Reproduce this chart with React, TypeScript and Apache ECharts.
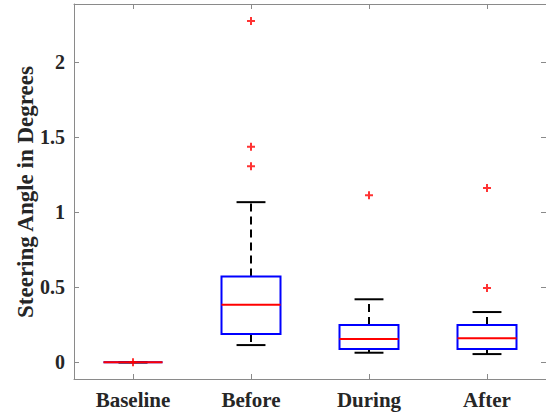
import React, { useEffect, useRef } from "react";
import * as echarts from "echarts";

const categories = ["Baseline", "Before", "During", "After"];
const whiskerLow = [0, 0.115, 0.064, 0.055];
const q1 = [0, 0.189, 0.089, 0.089];
const medians = [0, 0.384, 0.155, 0.16];
const q3 = [0, 0.571, 0.249, 0.249];
const whiskerHigh = [0, 1.067, 0.42, 0.335];
const outliers: [number, number][] = [
  [0, 0],
  [1, 2.273],
  [1, 1.436],
  [1, 1.307],
  [2, 1.113],
  [3, 1.162],
  [3, 0.495],
];
const yTicks = [0, 0.5, 1, 1.5, 2];
const yTitle = "Steering Angle in Degrees";

const FONT = "'Liberation Serif', 'Times New Roman', serif";
const AXIS_GRAY = "#8a8a8a";
const TEXT = "#262626";

export default function App() {
  const ref = useRef<HTMLDivElement>(null);
  useEffect(() => {
    if (!ref.current) return;
    const chart = echarts.init(ref.current, undefined, { renderer: "svg" });
    const boxData = categories.map((_, i) => [
      i,
      whiskerLow[i],
      q1[i],
      medians[i],
      q3[i],
      whiskerHigh[i],
    ]);
    const yCommon = {
      type: "value" as const,
      min: -0.111,
      max: 2.387,
      splitLine: { show: false },
      axisLine: { show: true, onZero: false, lineStyle: { color: AXIS_GRAY, width: 1 } },
      axisTick: {
        show: true,
        inside: true,
        length: 5,
        customValues: yTicks,
        lineStyle: { color: AXIS_GRAY },
      },
    };
    const xCommon = {
      type: "category" as const,
      data: categories,
      boundaryGap: true,
      splitLine: { show: false },
      axisLine: { show: true, onZero: false, lineStyle: { color: AXIS_GRAY, width: 1 } },
      axisTick: {
        show: true,
        inside: true,
        length: 5,
        alignWithLabel: true,
        lineStyle: { color: AXIS_GRAY },
      },
    };
    chart.setOption({
      animation: false,
      grid: { left: 74, right: -3, top: 4, bottom: 33, containLabel: false },
      xAxis: [
        {
          ...xCommon,
          position: "bottom",
          axisLabel: {
            show: true,
            fontFamily: FONT,
            fontWeight: "bold",
            fontSize: 21,
            color: TEXT,
            margin: 10,
          },
        },
        { ...xCommon, position: "top", axisLabel: { show: false } },
      ],
      yAxis: [
        {
          ...yCommon,
          position: "left",
          axisLabel: {
            show: true,
            fontFamily: FONT,
            fontWeight: "bold",
            fontSize: 20,
            color: TEXT,
            margin: 9,
            customValues: yTicks,
            formatter: (v: number) => String(v),
          },
        },
        { ...yCommon, position: "right", axisLabel: { show: false } },
      ],
      graphic: [
        {
          type: "text",
          x: 25,
          y: 192,
          rotation: Math.PI / 2,
          style: {
            text: yTitle,
            fontFamily: FONT,
            fontWeight: "bold",
            fontSize: 23,
            fill: TEXT,
            textAlign: "center",
            textVerticalAlign: "middle",
          },
        },
      ],
      series: [
        {
          type: "custom",
          xAxisIndex: 0,
          yAxisIndex: 0,
          data: boxData,
          encode: { x: 0, y: [1, 2, 3, 4, 5] },
          renderItem: (params: any, api: any) => {
            const idx = api.value(0);
            const lo = api.coord([idx, api.value(1)]);
            const b1 = api.coord([idx, api.value(2)]);
            const med = api.coord([idx, api.value(3)]);
            const b3 = api.coord([idx, api.value(4)]);
            const hi = api.coord([idx, api.value(5)]);
            const band = api.size([1, 0])[0];
            const bw = band * 0.5;
            const cw = bw * 0.49;
            const cx = lo[0];
            const dash = { stroke: "#000", lineWidth: 2, lineDash: [8, 5], fill: null };
            const solid = { stroke: "#000", lineWidth: 2, fill: null };
            return {
              type: "group",
              children: [
                { type: "line", shape: { x1: cx, y1: b3[1], x2: cx, y2: hi[1] }, style: dash },
                { type: "line", shape: { x1: cx, y1: b1[1], x2: cx, y2: lo[1] }, style: dash },
                { type: "line", shape: { x1: cx - cw / 2, y1: hi[1], x2: cx + cw / 2, y2: hi[1] }, style: solid },
                { type: "line", shape: { x1: cx - cw / 2, y1: lo[1], x2: cx + cw / 2, y2: lo[1] }, style: solid },
                {
                  type: "rect",
                  shape: { x: cx - bw / 2, y: b3[1], width: bw, height: b1[1] - b3[1] },
                  style: { stroke: "#0000ff", lineWidth: 2, fill: "#fff" },
                },
                {
                  type: "line",
                  shape: { x1: cx - bw / 2, y1: med[1], x2: cx + bw / 2, y2: med[1] },
                  style: { stroke: "#ff0000", lineWidth: 2 },
                },
              ],
            };
          },
          z: 2,
        },
        {
          type: "scatter",
          xAxisIndex: 0,
          yAxisIndex: 0,
          data: outliers,
          symbol: "path://M3,0H5V3H8V5H5V8H3V5H0V3H3Z",
          symbolSize: 8,
          itemStyle: { color: "#ff0000" },
          z: 3,
        },
      ],
    });
    return () => chart.dispose();
  }, []);
  return (
    <div
      ref={ref}
      style={{ position: "fixed", left: 0, top: 0, width: 546, height: 412, background: "#fff" }}
    />
  );
}
